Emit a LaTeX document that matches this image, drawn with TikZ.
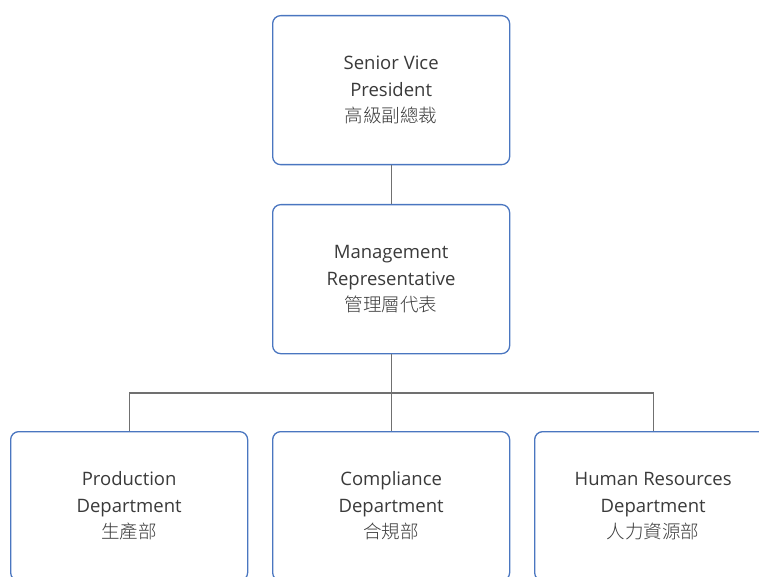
\documentclass[tikz,border=0pt]{standalone}
\usepackage{fontspec}
\setmainfont{Open Sans}
\newfontfamily\cjk{Noto Sans CJK TC Light}
\definecolor{boxblue}{HTML}{4A76C0}
\definecolor{linegray}{HTML}{707070}
\definecolor{txtgray}{HTML}{3A3A3A}
\begin{document}
\begin{tikzpicture}[x=1pt,y=-1pt,
  orgbox/.style={draw=boxblue, line width=1.3pt, rounded corners=8pt, fill=white,
    minimum width=237pt, minimum height=149pt, anchor=north west, align=center,
    text=txtgray, font=\fontsize{18.5}{26.5}\selectfont, inner sep=0pt},
  conn/.style={draw=linegray, line width=1.1pt}]
\useasboundingbox (0,0) rectangle (759,577);
\begin{scope}
\clip (0,0) rectangle (759,577);
\node[orgbox] (svp) at (272,15) {Senior Vice\\President\\{\cjk 高級副總裁}};
\node[orgbox] (mr) at (272,204) {Management\\Representative\\{\cjk 管理層代表}};
\node[orgbox] (pd) at (10,431) {Production\\Department\\{\cjk 生產部}};
\node[orgbox] (cd) at (272,431) {Compliance\\Department\\{\cjk 合規部}};
\node[orgbox] (hr) at (534,431) {Human Resources\\Department\\{\cjk 人力資源部}};
\coordinate (bus) at (mr.south |- 0,393);
\draw[conn] (svp.south) -- (mr.north);
\draw[conn] (mr.south) -- (bus);
\draw[conn] (pd.north) |- (bus) -| (hr.north);
\draw[conn] (bus) -- (cd.north);
\end{scope}
\end{tikzpicture}
\end{document}
